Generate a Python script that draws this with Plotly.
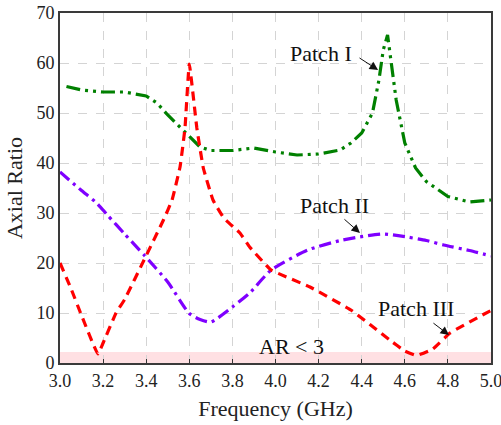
import plotly.graph_objects as go

# Patch I (green)
p1_x = [3.03, 3.1, 3.2, 3.3, 3.4, 3.45, 3.5, 3.55, 3.6, 3.65, 3.7, 3.8, 3.9, 4.0, 4.1, 4.2, 4.3, 4.35, 4.4, 4.45, 4.48, 4.5, 4.52, 4.54, 4.56, 4.6, 4.65, 4.7, 4.8, 4.9, 5.0]
p1_y = [55.3, 54.6, 54.2, 54.2, 53.4, 52.0, 49.6, 47.5, 45.3, 43.2, 42.5, 42.5, 43.0, 42.2, 41.6, 41.8, 42.6, 44.0, 46.0, 50.0, 56.6, 62.6, 65.6, 59.0, 52.6, 44.0, 39.0, 36.3, 33.3, 32.2, 32.6]

# Patch II (purple)
p2_x = [3.0, 3.1, 3.17, 3.22, 3.3, 3.39, 3.5, 3.6, 3.65, 3.7, 3.8, 3.88, 3.98, 4.15, 4.3, 4.39, 4.5, 4.61, 4.7, 4.78, 4.9, 5.0]
p2_y = [38.2, 34.5, 32.0, 29.6, 25.8, 21.6, 16.2, 9.9, 8.7, 8.2, 11.2, 14.0, 18.6, 22.6, 24.5, 25.2, 25.8, 25.2, 24.5, 23.6, 22.5, 21.4]

# Patch III (red)
p3_x = [3.0, 3.05, 3.1, 3.176, 3.2, 3.26, 3.3, 3.39, 3.48, 3.52, 3.557, 3.58, 3.6, 3.635, 3.665, 3.71, 3.76, 3.835, 3.88, 3.98, 4.16, 4.35, 4.53, 4.6, 4.655, 4.73, 4.81, 4.96, 5.0]
p3_y = [20.0, 15.0, 9.5, 1.8, 4.0, 10.0, 12.7, 20.6, 28.6, 32.6, 39.2, 47.0, 59.8, 47.0, 39.0, 32.6, 29.0, 26.0, 23.2, 18.6, 15.2, 10.6, 4.6, 2.4, 1.5, 2.8, 6.0, 9.6, 10.5]

x_ticks = [3.0, 3.2, 3.4, 3.6, 3.8, 4.0, 4.2, 4.4, 4.6, 4.8, 5.0]
y_ticks = [0, 10, 20, 30, 40, 50, 60, 70]
ar_band = [0, 2.2]

FONT = "Liberation Serif"

fig = go.Figure()
fig.add_shape(type="rect", xref="x", yref="y", x0=3.0, x1=5.0, y0=ar_band[0], y1=ar_band[1],
              fillcolor="#ffe0e3", line_width=0, layer="below")

fig.add_trace(go.Scatter(x=p1_x, y=p1_y, mode="lines", name="Patch I",
                         line=dict(color="#008000", width=3.2, dash="14px,5px,3px,5px,3px,5px")))
fig.add_trace(go.Scatter(x=p2_x, y=p2_y, mode="lines", name="Patch II",
                         line=dict(color="#7f00ff", width=3.2, dash="12px,5px,3px,5px", shape="spline", smoothing=0.6)))
fig.add_trace(go.Scatter(x=p3_x, y=p3_y, mode="lines", name="Patch III",
                         line=dict(color="#ff0000", width=3.2, dash="9px,6px", shape="spline", smoothing=0.3)))

def label(text, x, y):
    fig.add_annotation(x=x, y=y, text=text, showarrow=False, xref="x", yref="y",
                       font=dict(family=FONT, size=22, color="#111"))

def arrow(x0, y0, x1, y1):
    fig.add_annotation(x=x1, y=y1, ax=x0, ay=y0, xref="x", yref="y", axref="x", ayref="y",
                       text="", showarrow=True, arrowhead=2, arrowsize=1.7, arrowwidth=1,
                       arrowcolor="#111", standoff=0, startstandoff=0)

label("Patch I", 4.211, 62.0)
arrow(4.383, 61.2, 4.476, 58.6)
label("Patch II", 4.276, 31.6)
arrow(4.313, 29.0, 4.392, 26.0)
label("Patch III", 4.652, 11.0)
arrow(4.726, 8.2, 4.805, 5.6)
label("AR < 3", 4.074, 3.4)

fig.update_layout(
    width=501, height=425,
    margin=dict(l=60, r=10, t=13, b=62, autoexpand=False),
    paper_bgcolor="white", plot_bgcolor="white",
    showlegend=False,
    font=dict(family=FONT, size=18, color="#222"),
)
fig.update_xaxes(range=[3.0, 5.0], tickvals=x_ticks, ticktext=[f"{v:.1f}" for v in x_ticks],
                 showline=True, linecolor="#3a3a3a", linewidth=1.8, mirror=True,
                 ticks="inside", ticklen=4, tickcolor="#333",
                 showgrid=True, gridcolor="#d4d4d4", griddash="dash", gridwidth=1,
                 zeroline=False, automargin=False, ticklabeloverflow="allow",
                 title=dict(text="Frequency (GHz)", font=dict(family=FONT, size=22), standoff=11),
                 tickfont=dict(family=FONT, size=18))
fig.update_yaxes(range=[0, 70], tickvals=y_ticks,
                 showline=True, linecolor="#3a3a3a", linewidth=1.8, mirror=True,
                 ticks="", showgrid=True, gridcolor="#d4d4d4", griddash="dash", gridwidth=1,
                 zeroline=False, automargin=False, ticklabeloverflow="allow",
                 title=dict(text="Axial Ratio", font=dict(family=FONT, size=22), standoff=8),
                 tickfont=dict(family=FONT, size=18))

fig.write_html("out.html", config={"displayModeBar": False},
               post_script="document.body.style.margin='0';")
